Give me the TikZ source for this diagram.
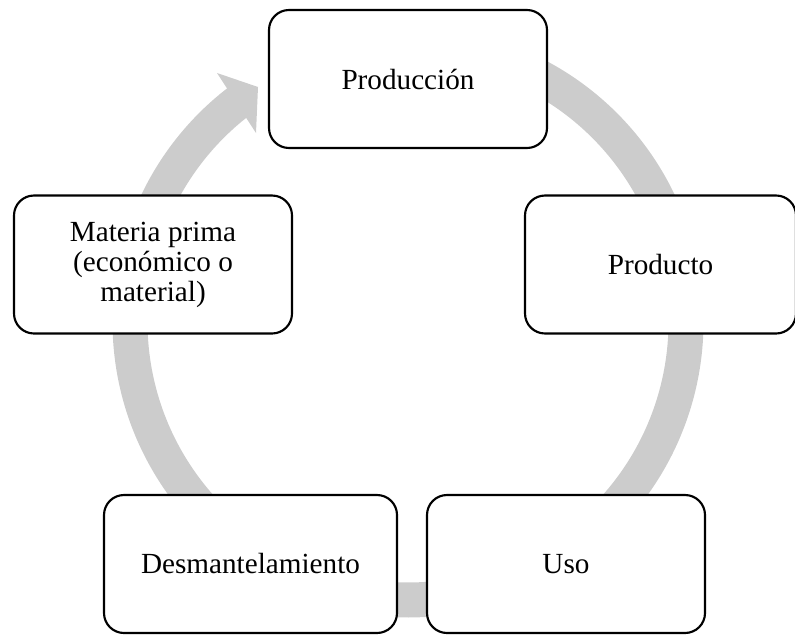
\documentclass[tikz,border=0pt]{standalone}
\usepackage{fontspec}
\setmainfont{Liberation Serif}
\usepackage{tikz}
\usetikzlibrary{shapes}
\definecolor{ringgray}{RGB}{204,204,204}
\tikzstyle{stage} = [draw=black, fill=white, line width=1.6pt,%
	rounded corners=15pt, minimum width=208.5pt, minimum height=103.5pt,%
	inner sep=0pt, align=center, font=\fontsize{21.9}{22.5}\selectfont]
\tikzstyle{ring} = [ringgray, line width=26.25pt]

\begin{document}
\begin{tikzpicture}[x=0.75pt, y=-0.75pt]
		\useasboundingbox (0,0) rectangle (795,635);
		\draw[ring] plot[domain=-80:232.5, samples=150, smooth] ({408+278*cos(\x)}, {322+278*sin(\x)});
		\fill[ringgray] (217,73) -- (258,87) -- (256,133) -- cycle;
		\node[stage] (produccion) at (408,79) {Producción};
		\node[stage, minimum width=203.25pt] (producto) at (660.5,264.5) {Producto};
		\node[stage] (uso) at (566,564) {Uso};
		\node[stage, minimum width=219.75pt] (desmantelamiento) at (250.5,564) {Desmantelamiento};
		\node[stage] (materia) at (153,264.5) {Materia prima\\(económico o\\material)};
	\end{tikzpicture}
\end{document}
